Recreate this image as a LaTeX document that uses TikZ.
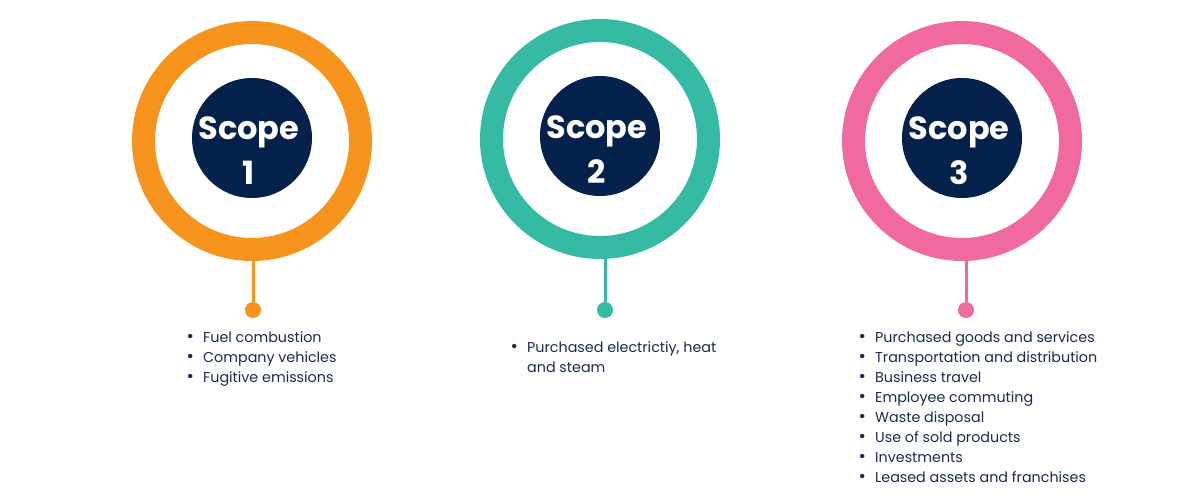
\documentclass[tikz,border=0pt]{standalone}
\usepackage{fontspec}
\setmainfont{Poppins}
\definecolor{sorange}{HTML}{F7941D}
\definecolor{steal}{HTML}{35BBA4}
\definecolor{spink}{HTML}{F06A9F}
\definecolor{snavy}{HTML}{03214A}
\definecolor{stext}{HTML}{1B2A4E}
\tikzset{
  ring/.style={circle, draw=#1, line width=23pt, minimum size=217pt, inner sep=0pt},
  core/.style={circle, fill=snavy, minimum size=120pt, inner sep=0pt},
  scopetxt/.style={text=white, font=\fontsize{32}{45}\selectfont\bfseries, align=center, inner sep=0pt},
  dot/.style={circle, fill=#1, minimum size=16pt, inner sep=0pt},
  stem/.style={draw=#1, line width=3pt},
  blist/.style={anchor=base west, inner sep=0pt, text=stext, font=\fontsize{14.3}{20}\selectfont}
}
\newcommand{\bl}{\makebox[26pt][c]{\scalebox{1.25}{\textbullet}}}
\newcommand{\nobl}{\makebox[26pt]{}}
\begin{document}
\begin{tikzpicture}[x=1pt,y=-1pt]
\useasboundingbox (0,0) rectangle (1200,500);
% Scope 1
\node[ring=sorange] (r1) at (252,141) {};
\node[core] (c1) at (252,138) {};
\node[scopetxt] (t1) at (249,151) {Scope\\1};
\node[dot=sorange] (d1) at (253,310) {};
\draw[stem=sorange] (r1.south -| d1) -- (d1);
% Scope 2
\node[ring=steal] (r2) at (600,139) {};
\node[core] (c2) at (600,136) {};
\node[scopetxt] (t2) at (597,150) {Scope\\2};
\node[dot=steal] (d2) at (605,310) {};
\draw[stem=steal] (r2.south -| d2) -- (d2);
% Scope 3
\node[ring=spink] (r3) at (962,141) {};
\node[core] (c3) at (962,138) {};
\node[scopetxt] (t3) at (959,151) {Scope\\3};
\node[dot=spink] (d3) at (966,310) {};
\draw[stem=spink] (r3.south -| d3) -- (d3);
% Lists
\node[blist] (l1) at (177,342) {\begin{tabular}[t]{@{}l@{}l@{}}
\bl & Fuel combustion\\
\bl & Company vehicles\\
\bl & Fugitive emissions
\end{tabular}};
\node[blist] (l2) at (501,352) {\begin{tabular}[t]{@{}l@{}l@{}}
\bl & Purchased electrictiy, heat\\
\nobl & and steam
\end{tabular}};
\node[blist] (l3) at (849,342) {\begin{tabular}[t]{@{}l@{}l@{}}
\bl & Purchased goods and services\\
\bl & Transportation and distribution\\
\bl & Business travel\\
\bl & Employee commuting\\
\bl & Waste disposal\\
\bl & Use of sold products\\
\bl & Investments\\
\bl & Leased assets and franchises
\end{tabular}};
\end{tikzpicture}
\end{document}
